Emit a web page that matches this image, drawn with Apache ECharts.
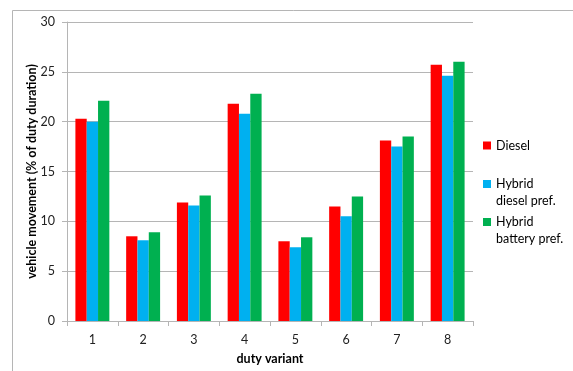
<!DOCTYPE html>
<html>
<head>
<meta charset="utf-8">
<script src="https://cdn.jsdelivr.net/npm/echarts@6/dist/echarts.min.js"></script>
<style>
  html, body { margin: 0; padding: 0; background: #fff; }
  #chart { width: 573px; height: 371px; }
</style>
</head>
<body>
<div id="chart"></div>
<script>
// Share of duty time the vehicle is moving, per duty variant and powertrain
const categories = ['1', '2', '3', '4', '5', '6', '7', '8'];
const diesel = [20.3, 8.5, 11.9, 21.8, 8.0, 11.5, 18.1, 25.7];
const hybridDieselPref = [20.0, 8.1, 11.6, 20.8, 7.4, 10.5, 17.5, 24.6];
const hybridBatteryPref = [22.1, 8.9, 12.6, 22.8, 8.4, 12.5, 18.5, 26.0];
const yTicks = [0, 5, 10, 15, 20, 25, 30];

const seriesNames = ['Diesel', 'Hybrid diesel pref.', 'Hybrid battery pref.'];
// Two-line entries get an empty first line so the swatch sits level with "Hybrid"
const legendLabels = {
  'Diesel': 'Diesel',
  'Hybrid diesel pref.': '\nHybrid\ndiesel pref.',
  'Hybrid battery pref.': '\nHybrid\nbattery pref.'
};
const colors = ['#ff0000', '#00b0f0', '#00b050'];

const FONT = 'Lato';
const GRID = '#b5b5b5';

const chart = echarts.init(document.getElementById('chart'));

function legendFor(name, top) {
  return {
    data: [name],
    orient: 'vertical',
    left: 483,
    top: top,
    padding: 0,
    icon: 'rect',
    itemWidth: 8,
    itemHeight: 8,
    itemGap: 0,
    selectedMode: false,
    formatter: n => legendLabels[n],
    textStyle: {
      fontFamily: FONT, fontSize: 12.5, color: '#000',
      lineHeight: 17
    }
  };
}

chart.setOption({
  animation: false,
  backgroundColor: '#fff',
  graphic: [{
    type: 'rect',
    shape: { x: 12.5, y: 10.5, width: 600, height: 400 },
    style: { fill: 'none', stroke: GRID, lineWidth: 1 },
    silent: true,
    z: -10
  }],
  grid: { left: 67, top: 22, right: 100, bottom: 50, outerBoundsMode: 'none', containLabel: false },
  legend: [
    legendFor('Diesel', 137),
    legendFor('Hybrid diesel pref.', 158.5),
    legendFor('Hybrid battery pref.', 196.5)
  ],
  xAxis: {
    type: 'category',
    data: categories,
    name: 'duty variant',
    nameLocation: 'middle',
    nameGap: 31,
    nameMoveOverlap: false,
    nameTextStyle: { fontFamily: FONT, fontSize: 12.5, fontWeight: 'bold', color: '#000' },
    axisLine: { lineStyle: { color: GRID } },
    axisTick: { show: true, length: 5, alignWithLabel: false, lineStyle: { color: GRID } },
    axisLabel: { fontFamily: FONT, fontSize: 12.5, color: '#222', margin: 12 }
  },
  yAxis: {
    type: 'value',
    min: yTicks[0],
    max: yTicks[yTicks.length - 1],
    interval: yTicks[1] - yTicks[0],
    name: 'vehicle movement (% of duty duration)',
    nameLocation: 'middle',
    nameGap: 29,
    nameRotate: 90,
    nameMoveOverlap: false,
    nameTextStyle: { fontFamily: FONT, fontSize: 12.5, fontWeight: 'bold', color: '#000' },
    axisLine: { show: true, lineStyle: { color: GRID } },
    axisTick: { show: true, length: 5, lineStyle: { color: GRID } },
    axisLabel: { fontFamily: FONT, fontSize: 12.5, color: '#222', margin: 12 },
    splitLine: { lineStyle: { color: GRID } }
  },
  series: [diesel, hybridDieselPref, hybridBatteryPref].map((vals, i) => ({
    name: seriesNames[i],
    type: 'bar',
    data: vals,
    barWidth: '22.3%',
    barGap: '0%',
    itemStyle: { color: colors[i] }
  }))
});
</script>
</body>
</html>
